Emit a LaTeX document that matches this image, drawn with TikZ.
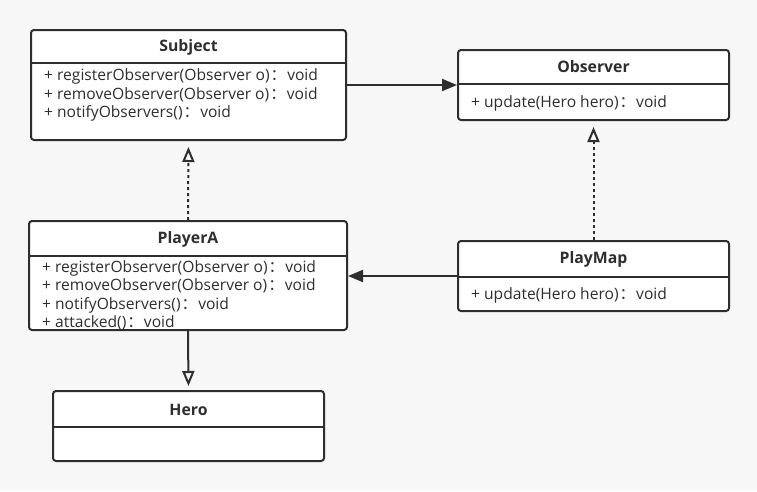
\documentclass[tikz,border=0pt]{standalone}
\usepackage{fontspec}
\setmainfont{Open Sans}
\newfontfamily\cjk{Noto Sans CJK SC}
\usetikzlibrary{arrows.meta}
\definecolor{ink}{HTML}{2E2E2E}
\definecolor{bg}{HTML}{F7F7F7}
\newcommand{\ret}{\hspace{1pt}{\cjk ：}\hspace{1pt}void}
\tikzset{
  box/.style={draw=ink, line width=2pt, fill=white, rounded corners=3pt, inner sep=0pt},
  ttl/.style={font=\fontsize{15.8}{18}\selectfont\bfseries, text=ink, inner sep=0pt},
  mth/.style={font=\fontsize{15.6}{18}\selectfont, text=ink, anchor=west, inner sep=0pt},
  div/.style={draw=ink, line width=2pt},
  assoc/.style={draw=ink, line width=2pt, -{Triangle[length=15pt,width=12pt]}},
  real/.style={draw=ink, line width=2pt, dash pattern=on 3pt off 3pt, shorten >=6pt, -{Triangle[open,length=15pt,width=12pt,line width=2pt]}},
  gen/.style={draw=ink, line width=2pt, shorten >=4pt, -{Triangle[open,length=15pt,width=12pt,line width=2pt]}}
}
\begin{document}
\begin{tikzpicture}[x=1pt,y=-1pt]
\fill[bg] (0,0) rectangle (757,491);
\useasboundingbox (0,0) rectangle (757,491);
% Subject
\node[box, minimum width=315pt, minimum height=110pt] (subj) at (188.5,85) {};
\draw[div] (31,63) -- (346,63);
\node[ttl] (subjT) at (188.5,47) {Subject};
\node[mth] (s1) at (44,76) {+ registerObserver(Observer o)\ret};
\node[mth] (s2) at (44,95) {+ removeObserver(Observer o)\ret};
\node[mth] (s3) at (44,113) {+ notifyObservers()\ret};
% Observer
\node[box, minimum width=271pt, minimum height=70pt] (obs) at (593.5,85) {};
\draw[div] (458,84) -- (729,84);
\node[ttl] (obsT) at (593.5,67) {Observer};
\node[mth] (o1) at (471,103) {+ update(Hero hero)\ret};
% PlayerA
\node[box, minimum width=318pt, minimum height=109pt] (pa) at (188,275.5) {};
\draw[div] (29,256) -- (347,256);
\node[ttl] (paT) at (188,239) {PlayerA};
\node[mth] (p1) at (42,268) {+ registerObserver(Observer o)\ret};
\node[mth] (p2) at (42,286) {+ removeObserver(Observer o)\ret};
\node[mth] (p3) at (42,305) {+ notifyObservers()\ret};
\node[mth] (p4) at (42,323) {+ attacked()\ret};
% PlayMap
\node[box, minimum width=271pt, minimum height=70pt] (pm) at (593.5,276) {};
\draw[div] (458,277) -- (729,277);
\node[ttl] (pmT) at (593.5,259) {PlayMap};
\node[mth] (m1) at (471,295) {+ update(Hero hero)\ret};
% Hero
\node[box, minimum width=271pt, minimum height=70pt] (hero) at (188.5,426) {};
\draw[div] (53,427) -- (324,427);
\node[ttl] (heroT) at (188.5,410) {Hero};
% connectors
\draw[assoc] (subj.east) -- (obs.west);
\draw[real] (pa.north) -- (subj.south);
\draw[real] (pm.north) -- (obs.south);
\draw[assoc] (pm.west) -- (pa.east |- pm.west);
\draw[gen] (pa.south) -- (hero.north);
\end{tikzpicture}
\end{document}
